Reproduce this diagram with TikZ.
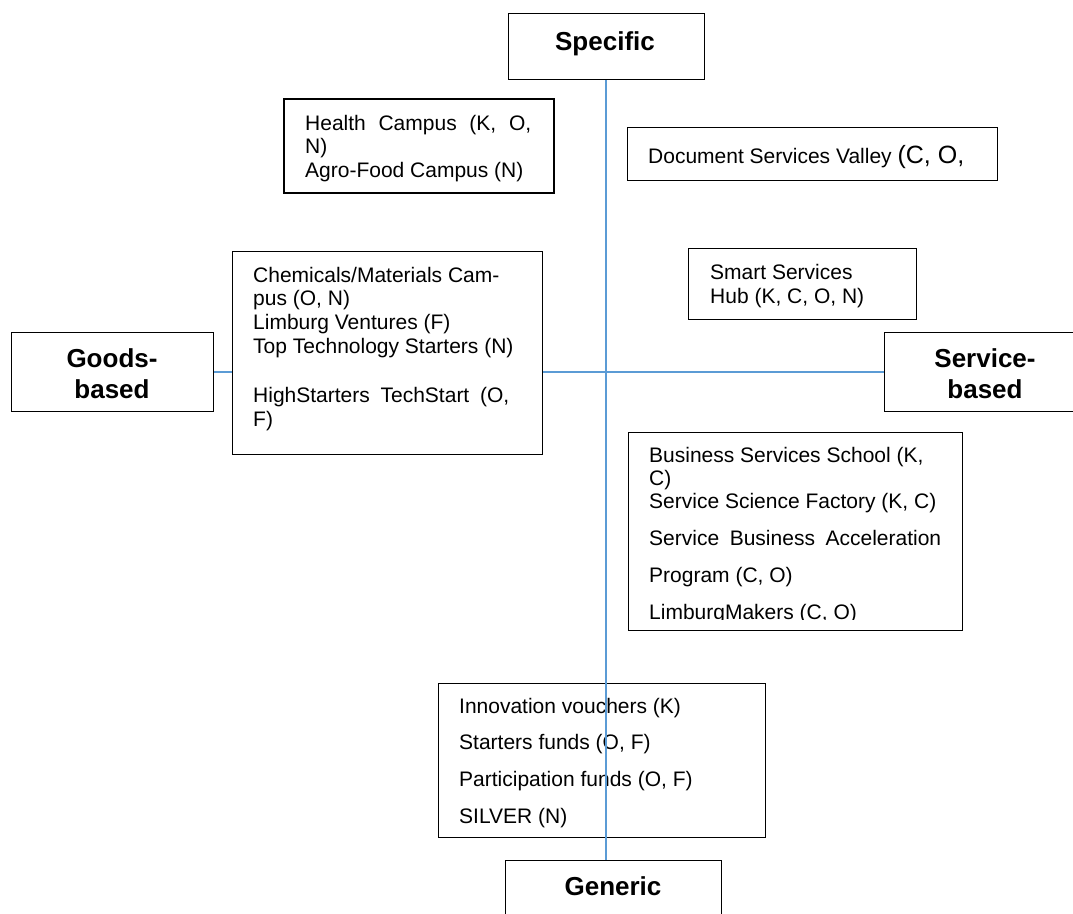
\documentclass[tikz,border=0pt]{standalone}
\usepackage{fontspec}
\setmainfont{Liberation Sans}
\definecolor{axisblue}{HTML}{5B9BD5}
\newcommand\blk[2]{\parbox[t]{#1}{\lineskiplimit=-50pt\raggedright #2}}
\tikzset{
  box/.style={draw=black, line width=1.3pt, fill=white, inner sep=0pt, anchor=north west},
  openbox/.style={draw=black, line width=1.3pt, inner sep=0pt, anchor=north west},
  axisline/.style={draw=axisblue, line width=1.5pt},
  txt/.style={anchor=base west, inner sep=0pt, font=\fontsize{21}{23.5}\selectfont},
  lbl/.style={anchor=base, inner sep=0pt, font=\fontsize{26}{31}\selectfont\bfseries},
}
\begin{document}
\begin{tikzpicture}[x=1pt,y=-1pt]
\clip (0,0) rectangle (1073,913);
\fill[white] (0,0) rectangle (1073,913);

% label boxes
\node[box, minimum width=196pt, minimum height=66pt] (specific) at (507.5,13) {};
\node[lbl] (specificT) at (605,50) {Specific};
\node[box, minimum width=202pt, minimum height=79pt] (goods) at (11,332) {};
\node[lbl] (goodsT) at (112,367) {\parbox[t]{150pt}{\centering Goods-\\based}};
\node[box, minimum width=202pt, minimum height=79pt] (service) at (884,332) {};
\node[lbl] (serviceT) at (985,367) {\parbox[t]{150pt}{\centering Service-\\based}};
\node[box, minimum width=216pt, minimum height=90pt] (generic) at (505,860) {};
\node[lbl] (genericT) at (613,895) {Generic};

% Innovation box (line drawn over it)
\node[openbox, minimum width=327pt, minimum height=154pt] (innov) at (438,683) {};
\node[txt, font=\fontsize{21}{36.7}\selectfont] (innovT) at (459,713)
  {\blk{300pt}{Innovation vouchers (K)\\ Starters funds (O, F)\\ Participation funds (O, F)\\ SILVER (N)}};

% axes
\draw[axisline] (specific.south) -- (specific.south |- generic.north);
\draw[axisline] (goods.east) -- (goods.east -| service.west);

% Health box
\node[box, line width=1.8pt, minimum width=270pt, minimum height=94pt] (health) at (283,98) {};
\node[txt] (healthT) at (305,130)
  {\blk{240pt}{\makebox[226pt][s]{Health Campus (K, O,}\\ N)\\ Agro-Food Campus (N)}};

% Document services box
\node[box, minimum width=370pt, minimum height=53pt] (doc) at (627,127) {};
\node[txt] (docT) at (648,163) {Document Services Valley {\fontsize{25}{30}\selectfont(C, O,}};

% Chemicals box
\node[box, minimum width=310pt, minimum height=203pt] (chem) at (232,251) {};
\node[txt, font=\fontsize{21}{23.7}\selectfont] (chemT) at (253,282)
  {\blk{280pt}{Chemicals/Materials Cam-\\ pus (O, N)\\ Limburg Ventures (F)\\ Top Technology Starters (N)\\[25.5pt] \makebox[256pt][s]{HighStarters TechStart (O,}\\ F)}};

% Smart services box
\node[box, minimum width=228pt, minimum height=71pt] (smart) at (688,248) {};
\node[txt, font=\fontsize{21}{24}\selectfont] (smartT) at (710,279)
  {\blk{200pt}{Smart Services\\ Hub (K, C, O, N)}};

% Business services box
\node[box, minimum width=334pt, minimum height=198pt] (bus) at (628,432) {};
\begin{scope}
\clip (628,432) rectangle (962,619.5);
\node[txt, font=\fontsize{21}{23}\selectfont] (busT) at (649,462)
  {\blk{310pt}{Business Services School (K,\\ C)\\ Service Science Factory (K, C)\\[14pt] \makebox[292pt][s]{Service Business Acceleration}\\[14pt] Program (C, O)\\[14pt] LimburgMakers (C, O)}};
\end{scope}
\end{tikzpicture}
\end{document}
